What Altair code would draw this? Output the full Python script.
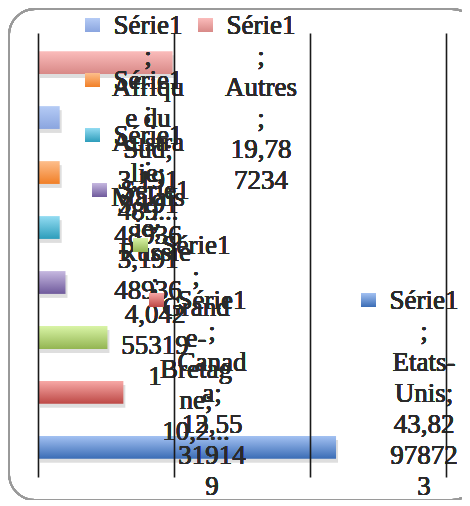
import altair as alt
import pandas as pd

# ---- data ----
categories = ["Etats-Unis", "Canada", "Grande-Bretagne", "Russie",
              "Malaisie", "Australie", "Afrique du Sud", "Autres"]
values = [43.8297872, 12.5531915, 10.2127660, 4.0425532,
          3.1914894, 3.1914894, 3.1914894, 19.787234]
color_top = ["#a3c1f2", "#f7a8a6", "#d9f4a6", "#c6b8e0",
             "#93dcf2", "#fdbe8c", "#b5cbf5", "#fbbcbb"]
color_bottom = ["#3a6cb5", "#bd4845", "#93b552", "#6f5a9c",
                "#2d9dbb", "#f17f26", "#8aa5df", "#d88987"]
label_lines = {
    "Etats-Unis": ["Série1", ";", "Etats-", "Unis;", "43,82", "97872", "3"],
    "Canada": ["Série1", ";", "Canad", "a;", "12,55", "31914", "9"],
    "Grande-Bretagne": ["Série1", ";", "Grand", "e-", "Bretag", "ne;", "10,2..."],
    "Russie": ["Série1", ";", "Russie", ";", "4,042", "55319", "1"],
    "Malaisie": ["Série1", ";", "Malais", "ie;", "3,191", "48936"],
    "Australie": ["Série1", ";", "Austra", "lie;", "3,191", "48936"],
    "Afrique du Sud": ["Série1", ";", "Afriqu", "e du", "Sud;", "3,191", "489..."],
    "Autres": ["Série1", ";", "Autres", ";", "19,78", "7234"],
}

# ---- layout (page pixels of each legend marker) ----
legend_layout = [
    ("Afrique du Sud", 85, 25),
    ("Autres", 198, 25),
    ("Australie", 85, 80),
    ("Malaisie", 85, 135),
    ("Russie", 92, 190),
    ("Grande-Bretagne", 133, 245),
    ("Canada", 149, 300),
    ("Etats-Unis", 361, 300),
]
OX, OY = 38, 33  # page position of plot origin
W, H = 408, 444

df = pd.DataFrame({"pays": categories, "valeur": values})
order = list(reversed(categories))

xenc = alt.X("valeur:Q", scale=alt.Scale(domain=[0, 60], nice=False),
             axis=alt.Axis(values=[0, 20, 40, 60], labels=False, ticks=False,
                           domain=False, title=None, grid=True,
                           gridColor="#1a1a1a", gridWidth=1.6, zindex=1))
yenc = alt.Y("pays:N", scale=alt.Scale(domain=order, paddingInner=0.585,
                                       paddingOuter=0.33),
             axis=None)

def grad(top, bottom):
    return alt.Gradient(gradient="linear", x1=0, y1=0, x2=0, y2=1,
                        stops=[alt.GradientStop(color=top, offset=0),
                               alt.GradientStop(color=bottom, offset=1)])

base = alt.Chart(df)

frame = base.mark_rect(fill="white", fillOpacity=0, stroke="#9a9a9a",
                       strokeWidth=1.8, cornerRadius=26).encode(
    x=alt.value(9 - OX), x2=alt.value(478 - OX),
    y=alt.value(9 - OY), y2=alt.value(500 - OY))

shadow = base.mark_bar(color="#000000", opacity=0.13, xOffset=2,
                       yOffset=4).encode(x=xenc, y=yenc)

layers = [frame, shadow]
for i, c in enumerate(categories):
    layers.append(
        base.transform_filter(alt.datum.pays == c)
        .mark_bar(color=grad(color_top[i], color_bottom[i]))
        .encode(x=xenc, y=yenc)
    )

for name, mx, my in legend_layout:
    i = categories.index(name)
    layers.append(
        base.mark_rect(color=grad(color_top[i], color_bottom[i])).encode(
            x=alt.value(mx - OX), x2=alt.value(mx + 15 - OX),
            y=alt.value(my - 7 - OY), y2=alt.value(my + 7 - OY))
    )
    layers.append(
        base.mark_text(font="Liberation Serif", fontSize=27, lineHeight=31,
                       align="center", baseline="alphabetic",
                       color="#2a2a2a").encode(
            x=alt.value(mx + 63 - OX), y=alt.value(my + 9 - OY),
            text=alt.value(label_lines[name]))
    )

chart = alt.layer(*layers).properties(
    width=W, height=H,
    autosize=alt.AutoSizeParams(type="none"),
    padding={"left": 30, "top": 25, "right": 16, "bottom": 23},
).configure_view(stroke=None)

chart.save("out.html", embed_options={"renderer": "svg", "actions": False})
